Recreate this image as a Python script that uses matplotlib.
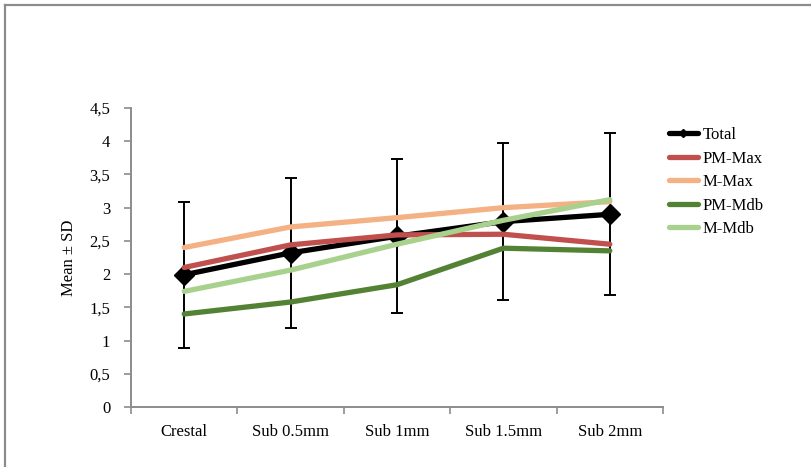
import matplotlib
matplotlib.use("Agg")
import matplotlib.pyplot as plt
from matplotlib.lines import Line2D
import numpy as np

plt.rcParams['font.family'] = ['Liberation Serif', 'DejaVu Serif']

categories = ["Crestal", "Sub 0.5mm", "Sub 1mm", "Sub 1.5mm", "Sub 2mm"]
total = [1.99, 2.32, 2.57, 2.79, 2.90]
total_sd = [1.10, 1.13, 1.16, 1.18, 1.22]
pm_max = [2.10, 2.44, 2.59, 2.60, 2.45]
m_max = [2.40, 2.71, 2.85, 3.00, 3.09]
pm_mdb = [1.40, 1.58, 1.84, 2.39, 2.35]
m_mdb = [1.74, 2.06, 2.45, 2.81, 3.12]
y_ticks = [0, 0.5, 1, 1.5, 2, 2.5, 3, 3.5, 4, 4.5]
y_tick_labels = ["0", "0,5", "1", "1,5", "2", "2,5", "3", "3,5", "4", "4,5"]

W, H = 812, 467
fig = plt.figure(figsize=(W / 100, H / 100), dpi=100)

# outer chart frame: only top and left edges
fig.add_artist(Line2D([5 / W, 5 / W], [0, 1 - 5 / H], transform=fig.transFigure,
                      color="#8c8c8c", lw=1.6))
fig.add_artist(Line2D([5 / W, 1], [1 - 5 / H, 1 - 5 / H], transform=fig.transFigure,
                      color="#8c8c8c", lw=1.6))

ax = fig.add_axes([131 / W, 1 - 407 / H, (663 - 131) / W, (407 - 108) / H])
x = np.arange(len(categories))

fs = 12
lw = 3.8
series = [
    ("PM-Max", pm_max, "#C0504D"),
    ("M-Max", m_max, "#F4B183"),
    ("PM-Mdb", pm_mdb, "#548235"),
    ("M-Mdb", m_mdb, "#A9D18E"),
]

ax.errorbar(x, total, yerr=total_sd, fmt="none", ecolor="black", elinewidth=1.4,
            capsize=4.5, capthick=1.4, zorder=2)
ax.plot(x, total, color="black", lw=lw, marker="D", markersize=10,
        solid_capstyle="round", zorder=3)
for i, (name, vals, col) in enumerate(series):
    ax.plot(x, vals, color=col, lw=lw, solid_capstyle="round",
            solid_joinstyle="round", zorder=4 + i)

ax.set_xlim(-0.5, len(categories) - 0.5)
ax.set_ylim(0, 4.5)
ax.set_yticks(y_ticks)
ax.set_yticklabels(y_tick_labels)
ax.set_xticks(np.arange(len(categories) + 1) - 0.5, minor=False)
ax.set_xticklabels([""] * (len(categories) + 1))
ax.set_xticks(x, minor=True)
ax.set_xticklabels(categories, minor=True)
ax.tick_params(axis="x", which="minor", length=0, pad=12, labelsize=fs)
ax.tick_params(axis="x", which="major", length=5, color="#8c8c8c", width=1.2)
ax.tick_params(axis="y", length=5, color="#8c8c8c", width=1.2, labelsize=fs, pad=10)

for s in ["top", "right"]:
    ax.spines[s].set_visible(False)
for s in ["left", "bottom"]:
    ax.spines[s].set_color("#8c8c8c")
    ax.spines[s].set_linewidth(1.4)

ax.set_ylabel("Mean ± SD", fontsize=fs, labelpad=9)

handles = [Line2D([0], [0], color="black", lw=lw, marker="D", markersize=4,
                  solid_capstyle="round")]
handles += [Line2D([0], [0], color=c, lw=lw, solid_capstyle="round") for _, _, c in series]
labels = ["Total"] + [n for n, _, _ in series]
fig.legend(handles, labels, loc="upper left", bbox_to_anchor=(662 / W, 1 - 120.5 / H),
           frameon=False, fontsize=fs, handlelength=1.75, handletextpad=0.3,
           labelspacing=0.45, borderaxespad=0)

fig.savefig("out.png", dpi=100)
